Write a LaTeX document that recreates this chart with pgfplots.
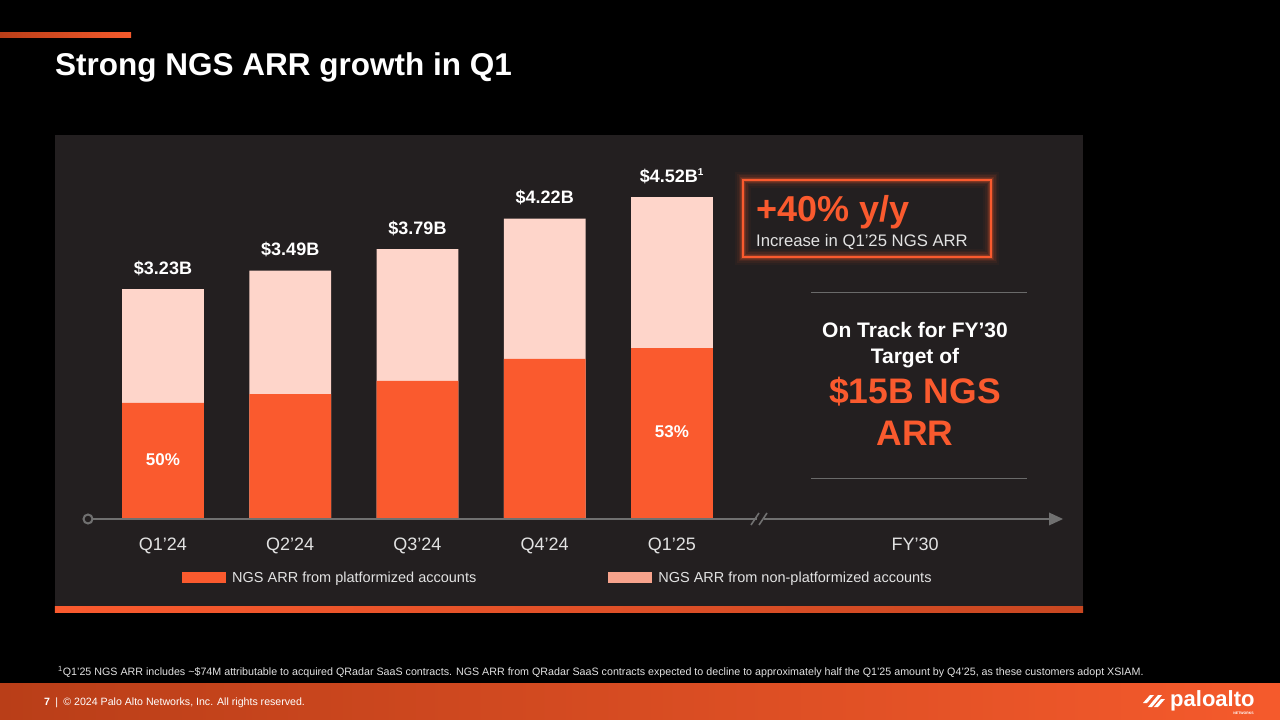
\documentclass[border=0pt]{standalone}
\usepackage{pgfplots}
\pgfplotsset{compat=1.18}
\usepackage{fontspec}
\setmainfont{Liberation Sans}
\usetikzlibrary{arrows.meta}
\pgfdeclarelayer{bg}
\pgfsetlayers{bg,main}
\definecolor{plat}{HTML}{FA5A2E}
\definecolor{nonplat}{HTML}{FED5CA}
\definecolor{legsal}{HTML}{F7A38C}
\definecolor{panel}{HTML}{231F20}
\definecolor{axisgray}{HTML}{707070}
\definecolor{ticktxt}{HTML}{E2E2E2}
\definecolor{sepgray}{HTML}{6A6A6A}
\definecolor{footL}{HTML}{B93E18}
\definecolor{footR}{HTML}{F55A2C}
\definecolor{stripR}{HTML}{C84721}
\newcommand\fs[1]{\fontsize{#1}{#1}\selectfont}
\begin{document}
\begin{tikzpicture}[x=1pt,y=1pt]
\begin{axis}[
  scale only axis, width=979.8pt, height=356pt,
  xmin=-0.6, xmax=7.1, ymin=0, ymax=5,
  clip=false,
  axis line style={draw=none},
  major tick length=0pt,
  ytick=\empty,
  xtick={0,1,2,3,4,5.91},
  xticklabels={Q1’24,Q2’24,Q3’24,Q4’24,Q1’25,FY’30},
  xticklabel style={text=ticktxt, font=\fs{18}, yshift=-15pt},
  ybar, bar width=0.644,
  legend columns=2,
  reverse legend,
  legend style={at={(0.0973,-0.1657)}, anchor=west, draw=none, fill=none,
    text=ticktxt, font=\fs{14.5}, inner sep=0pt,
    /tikz/every odd column/.append style={column sep=4pt},
    /tikz/every even column/.append style={column sep=130pt}},
  legend cell align=left,
]
% total NGS ARR (light part shows the non-platformized share)
\addplot[fill=nonplat, draw=none, bar shift=0pt,
  legend image code/.code={\fill[legsal] (0pt,-5.5pt) rectangle (44pt,5.5pt);},
  point meta=explicit symbolic,
  nodes near coords,
  every node near coord/.append style={text=white, font=\bfseries\fs{18}, anchor=base, yshift=15pt}]
  coordinates {(0,3.23) [\$3.23B] (1,3.49) [\$3.49B] (2,3.79) [\$3.79B] (3,4.22) [\$4.22B] (4,4.52) [\$4.52B\textsuperscript{\fs{10}1}]};
\addlegendentry{NGS ARR from non-platformized accounts}
% platformized accounts
\addplot[fill=plat, draw=none, bar shift=0pt,
  legend image code/.code={\fill[plat] (0pt,-5.5pt) rectangle (44pt,5.5pt);}]
  coordinates {(0,1.63) (1,1.755) (2,1.94) (3,2.25) (4,2.40)};
\addlegendentry{NGS ARR from platformized accounts}
\node[text=white, font=\bfseries\fs{17}] at (axis cs:0,0.84) {50\%};
\node[text=white, font=\bfseries\fs{17}] at (axis cs:4,1.22) {53\%};
\coordinate (O) at (axis cs:-0.6,0);
\end{axis}

\begin{scope}[shift={(O)}, xshift=-86.65pt, yshift=-201pt]
\begin{pgfonlayer}{bg}
\fill[black] (0,0) rectangle (1280,720);
\shade[left color=footL, right color=footR] (0,687) rectangle (131,682);
\fill[panel] (55,585) rectangle (1083,114);
\shade[left color=plat, right color=stripR] (55,114) rectangle (1083,108);
\shade[left color=footL, right color=footR] (0,0) rectangle (1280,37);
\end{pgfonlayer}

\node[anchor=base west, inner sep=0, text=white, font=\bfseries\fs{31.5}] at (55,644) {Strong NGS ARR growth in Q1};

% baseline with break and arrow
\draw[axisgray, line width=2.6pt] (92.5,201) -- (757,201);
\draw[axisgray, line width=2.6pt] (764,201) -- (1050,201);
\fill[axisgray] (1063,201) -- (1049,207.5) -- (1049,194.5) -- cycle;
\draw[axisgray, line width=2pt, fill=panel] (88,201) circle (4.5);
\draw[axisgray, line width=1.6pt] (751,195) -- (759,207);
\draw[axisgray, line width=1.6pt] (759,195) -- (767,207);

% +40% box with glow
\foreach \w/\o in {16/0.04,12/0.06,9/0.09,6/0.14,4/0.22}
  \draw[plat, line width=\w pt, opacity=\o] (743,540) rectangle (991,463);
\draw[plat, line width=2.5pt] (743,540) rectangle (991,463);
\node[anchor=base west, inner sep=0, text=plat, font=\bfseries\fs{36}] at (756,498) {+40\% y/y};
\node[anchor=base west, inner sep=0, text=ticktxt, font=\fs{16.7}] at (756,473) {Increase in Q1’25 NGS ARR};

% FY'30 target text
\draw[sepgray, line width=1pt] (811,427) -- (1027,427);
\draw[sepgray, line width=1pt] (811,241) -- (1027,241);
\node[anchor=base, inner sep=0, text=white, font=\bfseries\fs{21}] at (915,382) {On Track for FY’30};
\node[anchor=base, inner sep=0, text=white, font=\bfseries\fs{21}] at (915,356) {Target of};
\node[anchor=base, inner sep=0, text=plat, font=\bfseries\fs{35.5}] at (915,316) {\$15B NGS};
\node[anchor=base, inner sep=0, text=plat, font=\bfseries\fs{35.5}] at (915,274) {ARR};

% footnote
\node[anchor=base west, inner sep=0, text=ticktxt, font=\fs{10.7}] at (58,45) {\textsuperscript{1}Q1’25 NGS ARR includes \textasciitilde\$74M attributable to acquired QRadar SaaS contracts. NGS ARR from QRadar SaaS contracts expected to decline to approximately half the Q1’25 amount by Q4’25, as these customers adopt XSIAM.};

% footer
\node[anchor=base west, inner sep=0, text=white, font=\fs{10.6}] at (44,15) {\textbf{7}\enspace|\enspace© 2024 Palo Alto Networks, Inc. All rights reserved.};
\begin{scope}[white]
  \fill (1143,17) -- (1150,25) -- (1154,25) -- (1147,17) -- cycle;
  \fill (1148,13) -- (1158,25) -- (1162,25) -- (1152,13) -- cycle;
  \fill (1154,13) -- (1161,21) -- (1165,21) -- (1158,13) -- cycle;
\end{scope}
\node[anchor=base west, inner sep=0, text=white, font=\bfseries\fs{22}] at (1170,14) {paloalto};
\node[anchor=base east, inner sep=0, text=white, font=\bfseries\fs{3.5}] at (1254,6) {NETWORKS};

\pgfresetboundingbox
\path[use as bounding box] (0,0) rectangle (1280,720);
\end{scope}
\end{tikzpicture}
\end{document}
